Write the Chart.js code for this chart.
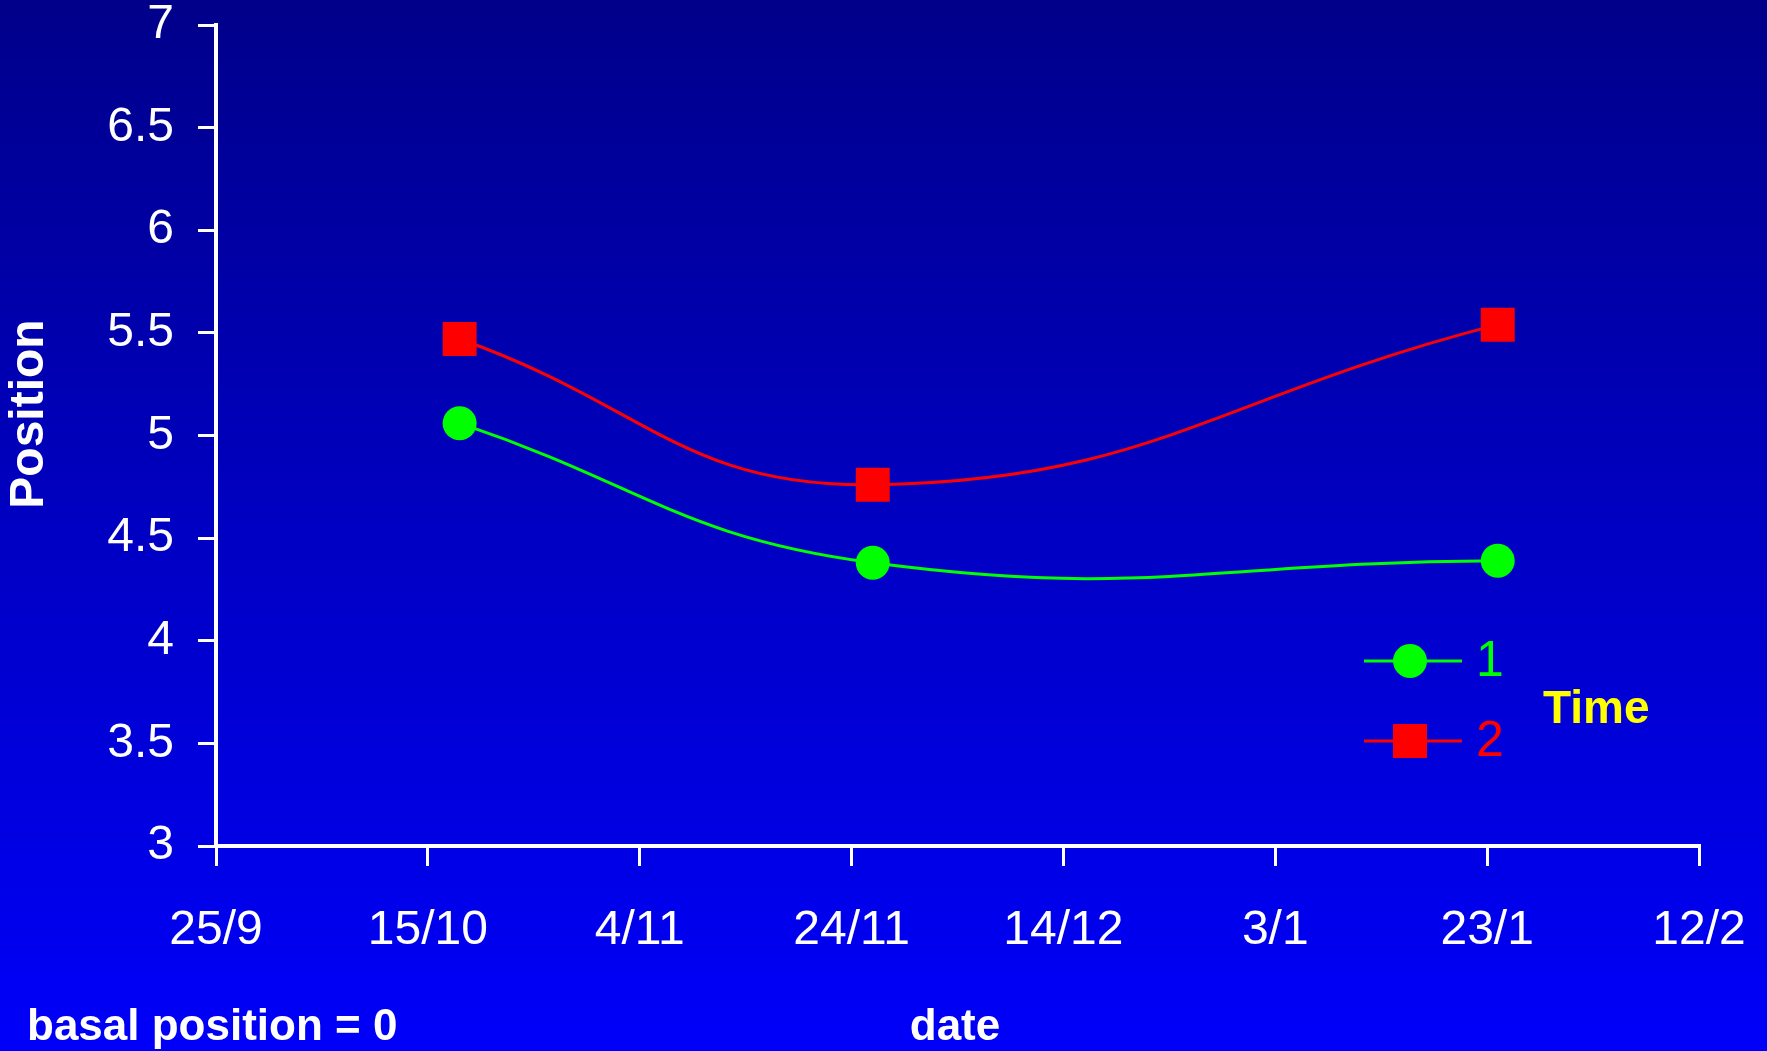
<!DOCTYPE html>
<html>
<head>
<meta charset="utf-8">
<script src="https://cdn.jsdelivr.net/npm/chart.js@4.4.0/dist/chart.umd.min.js"></script>
<style>
html,body{margin:0;padding:0;background:#0000c0;overflow:hidden;}
</style>
</head>
<body>
<canvas id="posChart" width="1767" height="1051"></canvas>
<script>
// data (x = days after 25/9)
var dateLabels = ["25/9","15/10","4/11","24/11","14/12","3/1","23/1","12/2"];
var dayTicks = [0,20,40,60,80,100,120,140];
var sampleDays = [23,62,121];
var time1 = [5.06,4.38,4.39];
var time2 = [5.47,4.76,5.54];
var seriesNames = ["1","2"];

function toPoints(days, vals){
    var pts = [];
    for (var i = 0; i < days.length; i++) pts.push({x: days[i], y: vals[i]});
    return pts;
}

var FONT = "'Liberation Sans', Arial, sans-serif";

// keep the plot box fixed: no extra room for overhanging tick labels
function noPad(s){
    s.paddingTop = 0;
    s.paddingBottom = 0;
    s.paddingLeft = 0;
    s.paddingRight = 0;
}

var bgPlugin = {
    id: 'bg',
    beforeDraw: function(chart){
        var ctx = chart.ctx;
        var g = ctx.createLinearGradient(0, 0, 0, chart.height);
        g.addColorStop(0, '#00008a');
        g.addColorStop(1, '#0000fa');
        ctx.save();
        ctx.fillStyle = g;
        ctx.fillRect(0, 0, chart.width, chart.height);
        ctx.restore();
    }
};

var textPlugin = {
    id: 'texts',
    afterDraw: function(chart){
        var ctx = chart.ctx;
        ctx.save();
        ctx.fillStyle = '#ffffff';
        ctx.textBaseline = 'middle';
        // y title
        ctx.save();
        ctx.translate(30, 414);
        ctx.rotate(-Math.PI / 2);
        ctx.textAlign = 'center';
        ctx.font = "bold 48px " + FONT;
        ctx.fillText('Position', 0, 0);
        ctx.restore();
        // bottom notes
        ctx.font = "bold 44px " + FONT;
        ctx.textAlign = 'left';
        ctx.fillText('basal position = 0', 27, 1028);
        ctx.textAlign = 'center';
        ctx.fillText('date', 955, 1028);

        // legend
        var rows = [661, 741];
        chart.data.datasets.forEach(function(ds, i){
            var y = rows[i];
            ctx.strokeStyle = ds.borderColor;
            ctx.lineWidth = 3;
            ctx.beginPath();
            ctx.moveTo(1364, y);
            ctx.lineTo(1462, y);
            ctx.stroke();
            ctx.fillStyle = ds.backgroundColor;
            if (ds.pointStyle === 'rect') {
                ctx.fillRect(1410 - 17, y - 17, 34, 34);
            } else {
                ctx.beginPath();
                ctx.arc(1410, y, 17, 0, Math.PI * 2);
                ctx.fill();
            }
            ctx.fillStyle = ds.borderColor;
            ctx.font = "50px " + FONT;
            ctx.textAlign = 'left';
            ctx.fillText(ds.label, 1476, y + 1);
        });
        ctx.fillStyle = '#ffff00';
        ctx.font = "bold 46px " + FONT;
        ctx.textAlign = 'left';
        ctx.fillText('Time', 1543, 710);
        ctx.restore();
    }
};

var ctx = document.getElementById("posChart");
var options = {};
var data = {};
options.type = 'line';
data.datasets = [{
    label: seriesNames[0],
    data: toPoints(sampleDays, time1),
    borderColor: '#00ff00',
    backgroundColor: '#00ff00',
    borderWidth: 3,
    pointStyle: 'circle',
    pointRadius: 17,
    pointBorderWidth: 0,
    tension: 0.45
}, {
    label: seriesNames[1],
    data: toPoints(sampleDays, time2),
    borderColor: '#ff0000',
    backgroundColor: '#ff0000',
    borderWidth: 3,
    pointStyle: 'rect',
    pointRadius: 24,
    pointBorderWidth: 0,
    tension: 0.45
}];
options.data = data;
options.options = {
    responsive: false,
    animation: false,
    layout: {padding: {top: 25, right: 68, left: 0, bottom: 0}},
    plugins: {legend: {display: false}, tooltip: {enabled: false}},
    scales: {
        x: {
            type: 'linear',
            min: 0,
            max: 140,
            afterFit: function(s){ s.height = 205; noPad(s); },
            afterBuildTicks: function(s){
                s.ticks = dayTicks.map(function(d){ return {value: d}; });
            },
            border: {color: '#ffffff', width: 4},
            grid: {drawOnChartArea: false, color: '#ffffff', lineWidth: 3, tickLength: 20},
            ticks: {
                color: '#ffffff',
                font: {family: FONT, size: 48, lineHeight: 1},
                padding: 41,
                maxRotation: 0,
                autoSkip: false,
                callback: function(v){
                    var i = dayTicks.indexOf(v);
                    return i >= 0 ? dateLabels[i] : '';
                }
            }
        },
        y: {
            min: 3,
            max: 7,
            afterFit: function(s){ s.width = 216; noPad(s); },
            border: {color: '#ffffff', width: 4},
            grid: {drawOnChartArea: false, color: '#ffffff', lineWidth: 3, tickLength: 18},
            ticks: {
                stepSize: 0.5,
                color: '#ffffff',
                font: {family: FONT, size: 48, lineHeight: 1},
                padding: 24,
                callback: function(v){ return String(Math.round(v * 10) / 10); }
            }
        }
    }
};
options.plugins = [bgPlugin, textPlugin];
new Chart(ctx, options);
</script>
</body>
</html>
